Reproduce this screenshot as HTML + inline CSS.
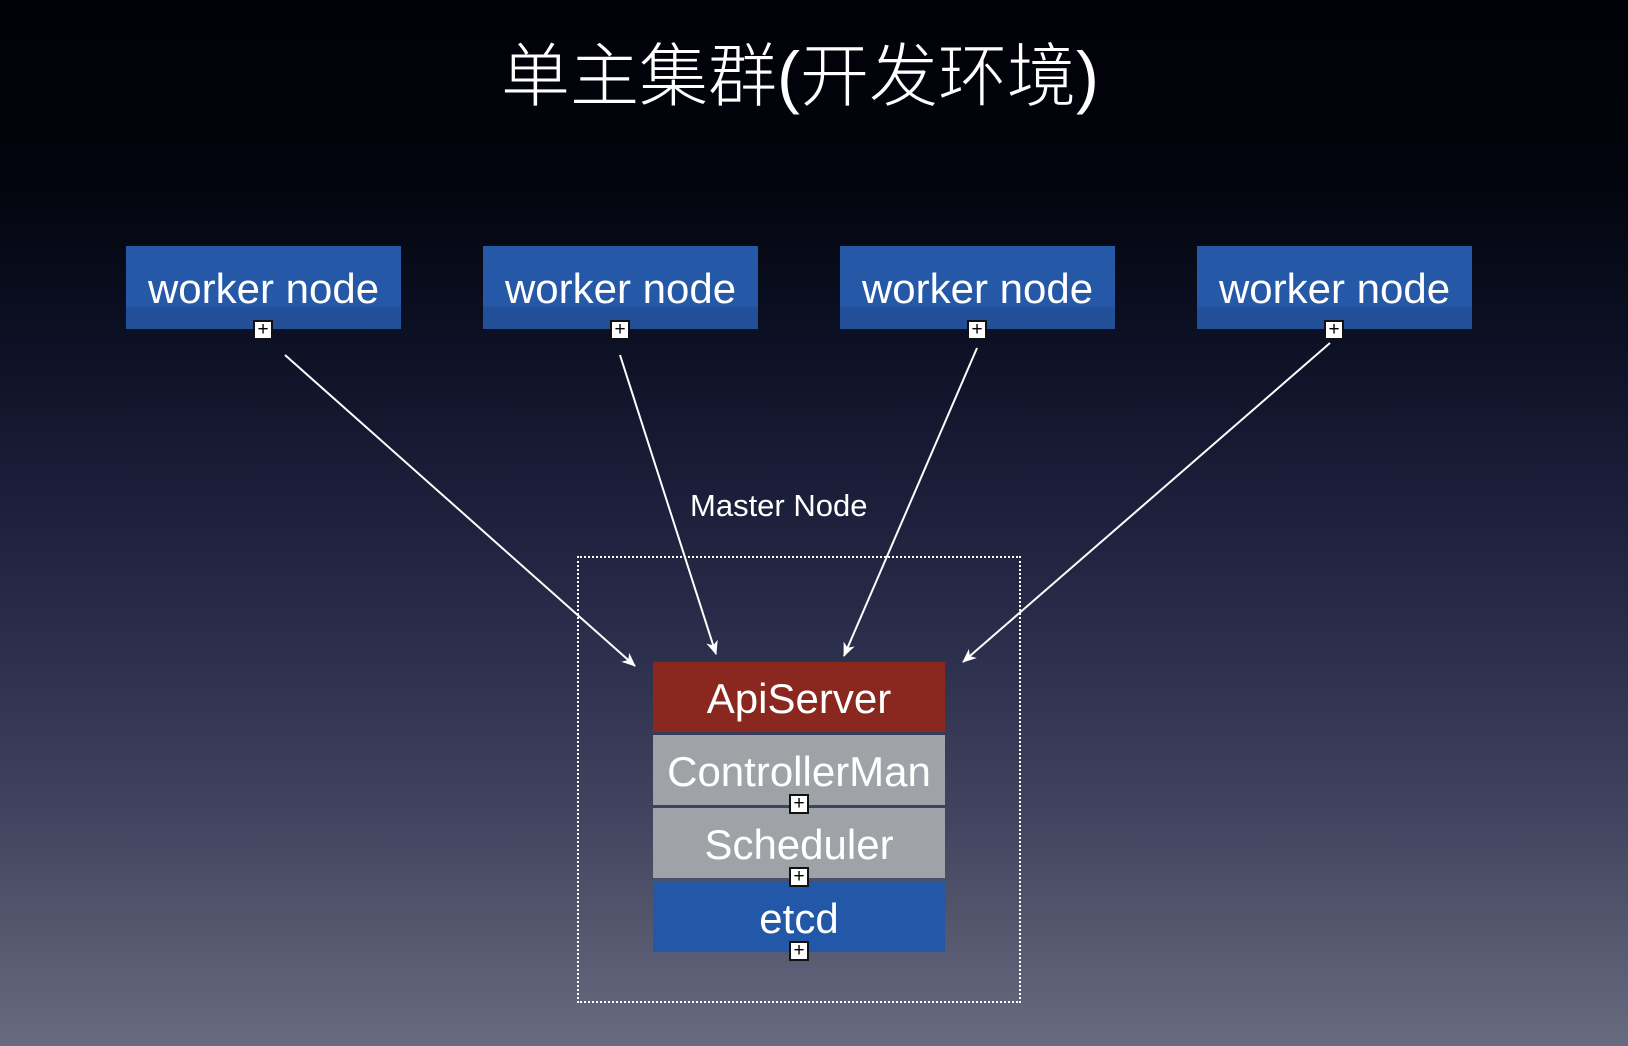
<!DOCTYPE html>
<html><head><meta charset="utf-8"><style>
html,body{margin:0;padding:0}
body{width:1628px;height:1046px;overflow:hidden;position:relative;
background:linear-gradient(to bottom,#010208 0%,#03050e 18%,#0c1024 32%,#1b1f3a 48%,#2c2f4c 62%,#41445f 78%,#56596f 90%,#686b80 100%);
font-family:"Liberation Sans","Noto Sans CJK SC",sans-serif;color:#fff}
.t{position:absolute;left:-14px;width:1628px;top:32px;text-align:center;font-size:69px;font-weight:300;line-height:90px;font-family:"Liberation Sans","Noto Sans CJK SC",sans-serif}
.w{position:absolute;top:246px;width:275px;height:83px;background:linear-gradient(#2559a8 0%,#2559a8 72%,#224f98 74%,#224f98 100%);text-align:center;font-size:42px;line-height:86px}
.p{position:absolute;width:20px;height:20px;background:#fff;border:2px solid #111;box-sizing:border-box;font-size:19px;line-height:15px;color:#000;text-align:center}
.m{position:absolute;left:653px;width:292px;height:70px;text-align:center;font-size:42px;line-height:74px}
</style></head><body>
<div class="t">单主集群(开发环境)</div>
<div class="w" style="left:126px">worker node</div>
<div class="w" style="left:483px">worker node</div>
<div class="w" style="left:840px">worker node</div>
<div class="w" style="left:1197px">worker node</div>
<div class="p" style="left:253px;top:320px">+</div>
<div class="p" style="left:610px;top:320px">+</div>
<div class="p" style="left:967px;top:320px">+</div>
<div class="p" style="left:1324px;top:320px">+</div>
<div style="position:absolute;left:577px;top:556px;width:444px;height:447px;border:2px dotted #fff;box-sizing:border-box"></div>
<div style="position:absolute;left:690px;top:488px;font-size:31px">Master Node</div>
<div class="m" style="top:662px;background:#8a2820">ApiServer</div>
<div class="m" style="top:735px;background:#9fa2a7">ControllerMan</div>
<div class="m" style="top:808px;background:#9fa2a7">Scheduler</div>
<div class="m" style="top:882px;background:#2358a8">etcd</div>
<div class="p" style="left:789px;top:794px">+</div>
<div class="p" style="left:789px;top:867px">+</div>
<div class="p" style="left:789px;top:941px">+</div>
<svg width="1628" height="1046" style="position:absolute;left:0;top:0">
<defs><marker id="a" markerWidth="14" markerHeight="12" refX="13" refY="6" orient="auto" markerUnits="userSpaceOnUse"><path d="M0,0 L14,6 L0,12 L4,6 z" fill="#fff"/></marker></defs>
<g stroke="#fff" stroke-width="2" marker-end="url(#a)">
<line x1="285" y1="355" x2="635" y2="666"/>
<line x1="620" y1="355" x2="716" y2="654"/>
<line x1="977" y1="348" x2="844" y2="656"/>
<line x1="1330" y1="343" x2="963" y2="662"/>
</g></svg>
</body></html>
